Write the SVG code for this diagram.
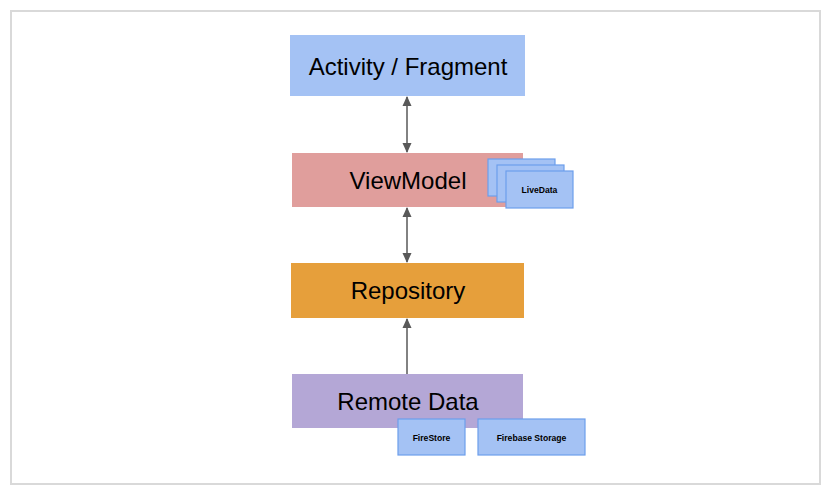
<svg xmlns="http://www.w3.org/2000/svg" width="831" height="491" viewBox="0 0 831 491">
<style>
.big{font-family:"Liberation Sans",Arial,sans-serif;font-size:24px;fill:#000;text-anchor:middle}
.small{font-family:"Liberation Sans",Arial,sans-serif;font-size:8.6px;font-weight:bold;fill:#000;text-anchor:middle}
.chip{fill:#a4c2f4;stroke:#6d9eeb;stroke-width:1.2}
.conn{stroke:#595959;stroke-width:1.5;fill:none}
</style>
<defs>
<marker id="ah" viewBox="0 0 10 10" refX="9" refY="5" markerWidth="10" markerHeight="10" orient="auto-start-reverse" markerUnits="userSpaceOnUse">
<path d="M0,0.5 L10,5 L0,9.5 z" fill="#595959"/>
</marker>
</defs>
<rect x="0" y="0" width="831" height="491" fill="#fff"/>
<rect x="11" y="11" width="809" height="473" fill="#fff" stroke="#d9d9d9" stroke-width="2"/>
<g id="connectors">
<line class="conn" x1="407" y1="97" x2="407" y2="152" marker-start="url(#ah)" marker-end="url(#ah)"/>
<line class="conn" x1="407" y1="208" x2="407" y2="262" marker-start="url(#ah)" marker-end="url(#ah)"/>
<line class="conn" x1="407" y1="374" x2="407" y2="319" marker-end="url(#ah)"/>
</g>
<g id="activity">
<rect x="290" y="35" width="235" height="61" fill="#a4c2f4"/>
<text class="big" x="408" y="75">Activity / Fragment</text>
</g>
<g id="viewmodel">
<rect x="292" y="153" width="231" height="54" fill="#e09e9c"/>
<text class="big" x="408" y="189">ViewModel</text>
</g>
<g id="livedata">
<rect class="chip" x="488" y="159" width="67" height="37"/>
<rect class="chip" x="497" y="165" width="67" height="37"/>
<rect class="chip" x="506" y="171" width="67" height="37"/>
<text class="small" x="539.5" y="193">LiveData</text>
</g>
<g id="repository">
<rect x="291" y="263" width="233" height="55" fill="#e69f3b"/>
<text class="big" x="408" y="299">Repository</text>
</g>
<g id="remote">
<rect x="292" y="374" width="231" height="54" fill="#b4a7d6"/>
<text class="big" x="408" y="410">Remote Data</text>
</g>
<g id="firestore">
<rect class="chip" x="398" y="419" width="67" height="36"/>
<text class="small" x="431.5" y="441">FireStore</text>
</g>
<g id="storage">
<rect class="chip" x="478" y="419" width="107" height="36"/>
<text class="small" x="531.5" y="441">Firebase Storage</text>
</g>
</svg>
